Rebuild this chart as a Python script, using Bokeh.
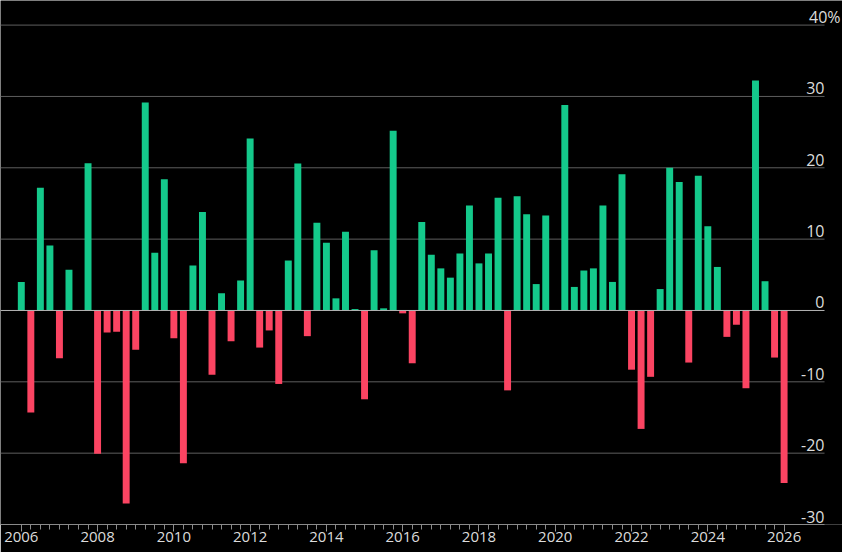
from bokeh.plotting import figure
from bokeh.models import FixedTicker, Range1d, ColumnDataSource
from bokeh.core.properties import value
from bokeh.embed import file_html
from bokeh.resources import INLINE

# ---- data -------------------------------------------------------------
start_year = 2006
# quarterly % change, first bar at 2006.0, one bar per quarter
pct_change = [
    4.0, -14.3, 17.2, 9.1, -6.7, 5.7, 0.0, 20.65,
    -20.1, -3.1, -3.0, -27.05, -5.5, 29.15, 8.1, 18.4,
    -3.9, -21.4, 6.3, 13.8, -9.0, 2.4, -4.3, 4.2,
    24.1, -5.2, -2.8, -10.3, 7.0, 20.6, -3.6, 12.3,
    9.5, 1.7, 11.05, 0.2, -12.45, 8.45, 0.3, 25.2,
    -0.4, -7.4, 12.4, 7.8, 5.9, 4.6, 8.0, 14.7,
    6.6, 8.0, 15.8, -11.2, 16.0, 13.5, 3.7, 13.3,
    0.0, 28.8, 3.3, 5.6, 5.9, 14.7, 4.0, 19.1,
    -8.3, -16.6, -9.3, 3.0, 20.0, 18.0, -7.3, 18.9,
    11.8, 6.1, -3.7, -2.0, -10.9, 32.25, 4.1, -6.6,
    -24.2,
]
year_ticks = [2006, 2008, 2010, 2012, 2014, 2016, 2018, 2020, 2022, 2024, 2026]
year_labels = ["2006", "2008", "2010", "2012", "2014", "2016", "2018", "2020",
               "2022", "2024", "2026"]
y_ticks = [-30, -20, -10, 0, 10, 20, 30, 40]
y_labels = ["-30", "-20", "-10", "0", "10", "20", "30", "40%"]

# ---- layout constants -------------------------------------------------
W, H = 842, 552
BORDER_BOTTOM = 28
FRAME_H = H - BORDER_BOTTOM
PX_PER_YEAR = 38.14
FIRST_TICK_PX = 20.8
GRID_END_PX = 824
TOP_GRID_PX = 24.6
LABEL_LIFT_PX = 8

x_start = year_ticks[0] - FIRST_TICK_PX / PX_PER_YEAR
x_end = x_start + W / PX_PER_YEAR
x_grid_end = x_start + GRID_END_PX / PX_PER_YEAR
y_bottom = y_ticks[0]
px_per_unit = (FRAME_H - TOP_GRID_PX) / (y_ticks[-1] - y_ticks[0])
y_top = y_bottom + FRAME_H / px_per_unit

# ---- derived ----------------------------------------------------------
quarter_pos = [start_year + i / 4 for i in range(len(pct_change))]
GREEN = "#14c98b"
RED = "#fb4462"
colors = [GREEN if v >= 0 else RED for v in pct_change]
bars = ColumnDataSource(dict(x=quarter_pos, top=pct_change, color=colors))

p = figure(width=W, height=H, output_backend="svg", toolbar_location=None,
           x_range=Range1d(x_start, x_end), y_range=Range1d(y_bottom, y_top),
           y_axis_location=None,
           background_fill_color="black", border_fill_color="black",
           min_border_left=0, min_border_top=0, min_border_right=0,
           min_border_bottom=BORDER_BOTTOM)
p.outline_line_color = None
p.grid.visible = False

# horizontal gridlines (end before the label column, like the original)
grid_vals = [t for t in y_ticks if t not in (0, y_bottom)]
p.segment(x0=[x_start] * len(grid_vals), x1=[x_grid_end] * len(grid_vals),
          y0=grid_vals, y1=grid_vals, line_color="#5e5e5e", line_width=1)

# bars
p.vbar(x="x", top="top", bottom=0, width=0.182, source=bars,
       fill_color="color", line_color=None)

# zero line
p.segment(x0=[x_start], x1=[x_grid_end], y0=[0], y1=[0],
          line_color="#b4b4b4", line_width=1)

# x axis
minor = [start_year + i / 4 for i in range(len(pct_change))]
ax = p.xaxis[0]
ax.bounds = (x_start, x_grid_end)
ax.ticker = FixedTicker(ticks=year_ticks, minor_ticks=minor)
ax.major_label_overrides = {t: l for t, l in zip(year_ticks, year_labels)}
ax.axis_line_color = "#8a8a8a"
ax.major_tick_line_color = "#9a9a9a"
ax.minor_tick_line_color = "#8a8a8a"
ax.major_tick_in = 0
ax.major_tick_out = 7
ax.minor_tick_in = 0
ax.minor_tick_out = 5
ax.major_label_standoff = 0
ax.major_label_text_color = "#dcdcdc"
ax.major_label_text_font = "Open Sans"
ax.major_label_text_font_size = "15px"

# y labels sitting above the gridlines at the right end
lift = LABEL_LIFT_PX / px_per_unit
lab = ColumnDataSource(dict(
    x=[x_grid_end] * len(y_ticks), y=[t + lift for t in y_ticks], text=y_labels,
    xo=[16 if t.endswith("%") else 0 for t in y_labels]))
p.text(x="x", y="y", text="text", x_offset="xo", source=lab,
       text_align="right", text_baseline="alphabetic",
       text_color="#dcdcdc", text_font=value("Open Sans"),
       text_font_size="16px")

open("out.html", "w").write(file_html(p, INLINE))
